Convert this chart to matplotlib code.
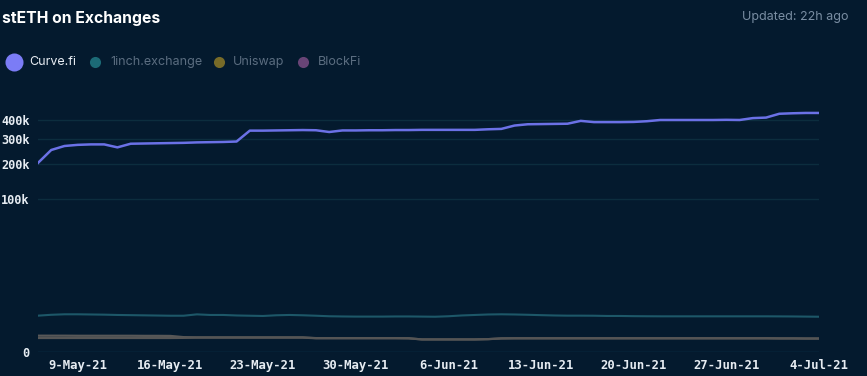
import numpy as np
import pandas as pd
import matplotlib
matplotlib.use("Agg")
import matplotlib.pyplot as plt
from matplotlib.lines import Line2D
from matplotlib.ticker import FuncFormatter, FixedLocator

# daily values, 6-May-21 .. 4-Jul-21
dates = pd.date_range("2021-05-06", "2021-07-04", freq="D")

curve_fi = [203e3, 253e3, 270e3, 275e3, 277e3, 277e3, 264e3, 280e3, 281e3, 282e3,
            283e3, 284e3, 286e3, 287e3, 288e3, 290e3, 343e3, 343e3, 344e3, 345e3,
            346e3, 345e3, 336e3, 344e3, 344e3, 345e3, 345e3, 346e3, 346e3, 347e3,
            347e3, 347e3, 347e3, 347e3, 350e3, 352e3, 370e3, 377e3, 378e3, 379e3,
            380e3, 396e3, 389e3, 389e3, 389e3, 390e3, 394e3, 401e3, 401e3, 401e3,
            401e3, 401e3, 402e3, 401e3, 412e3, 415e3, 438e3, 441e3, 443e3, 443e3]

inch = [850, 920, 960, 960, 945, 930, 905, 890, 875, 860,
        845, 845, 955, 905, 905, 865, 845, 826, 880, 905,
        880, 845, 805, 790, 780, 780, 780, 790, 790, 780,
        770, 805, 865, 905, 945, 960, 945, 920, 890, 865,
        850, 850, 845, 826, 826, 812, 805, 800, 800, 800,
        800, 800, 800, 800, 800, 800, 795, 790, 780, 770]

uniswap = [61, 61, 61, 60, 60, 60, 60, 60, 59, 59,
           58, 45, 43, 43, 43, 43, 43, 43, 43, 43,
           43, 36, 36, 36, 36, 36, 36, 36, 35, 26,
           26, 26, 26, 26, 28, 34, 35, 35, 35, 35,
           35, 35, 35, 35, 35, 35, 35, 35, 35, 35,
           35, 35, 35, 35, 35, 35, 34, 34, 33, 33]

blockfi = [37, 37, 37, 37, 37, 37, 37, 37, 37, 37,
           37, 38, 40, 40, 40, 40, 40, 40, 40, 40,
           40, 35, 35, 35, 35, 35, 35, 35, 34, 26,
           26, 26, 26, 26, 28, 33, 34, 34, 34, 34,
           34, 34, 34, 34, 34, 34, 34, 34, 34, 34,
           34, 34, 34, 34, 34, 34, 33, 33, 32, 32]

y_ticks = [0, 100e3, 200e3, 300e3, 400e3]
x_ticks = pd.date_range("2021-05-09", "2021-07-04", freq="7D")

BG = "#041a2e"
POW = 0.3


def fwd(v):
    v = np.asarray(v, dtype=float)
    return np.sign(v) * np.abs(v) ** POW


def inv(v):
    v = np.asarray(v, dtype=float)
    return np.sign(v) * np.abs(v) ** (1 / POW)


fig = plt.figure(figsize=(8.67, 3.76), dpi=100, facecolor=BG)
ax = fig.add_axes([38 / 867, (376 - 352.3) / 376, (819 - 38) / 867, (352.3 - 105) / 376])
ax.set_facecolor(BG)
ax.set_yscale("function", functions=(fwd, inv))

ax.plot(dates, uniswap, color="#585858", lw=1.6, zorder=3)
ax.plot(dates, blockfi, color="#555555", lw=1.6, zorder=3)
ax.plot(dates, inch, color="#1d5768", lw=1.5, zorder=3)
ax.plot(dates, curve_fi, color="#6b71e6", lw=1.8, zorder=4)

ax.set_xlim(dates[0], dates[-1])
ax.set_ylim(0, 494e3)

ax.yaxis.set_major_locator(FixedLocator(y_ticks))
ax.yaxis.set_major_formatter(FuncFormatter(lambda v, p: "0" if v == 0 else f"{int(v / 1000)}k"))
ax.set_xticks(x_ticks)
ax.set_xticklabels([f"{d.day}-{d:%b-%y}" for d in x_ticks])

for t in y_ticks:
    ax.axhline(t, color="#0e3a52" if t == 0 else "#0c2d3e", lw=1, zorder=1)

for s in ax.spines.values():
    s.set_visible(False)
ax.tick_params(length=0, colors="#e6ecf2", labelsize=8.8)
ax.tick_params(axis="y", pad=6, labelsize=8.6)
ax.tick_params(axis="x", pad=5)
for lab in ax.get_xticklabels() + ax.get_yticklabels():
    lab.set_family("DejaVu Sans Mono")
    lab.set_fontweight("bold")

# header
fig.text(2 / 867, 1 - 18 / 376, "stETH on Exchanges", color="white", fontsize=11.3,
         fontweight="bold", family="Inter", va="center", ha="left")
fig.text(849 / 867, 1 - 17 / 376, "Updated: 22h ago", color="#7a8ea3", fontsize=9,
         family="Inter", va="center", ha="right")

# legend
legend = [("Curve.fi", "#7b7cf6", 13, "#e8edf3", 14, 29),
          ("1inch.exchange", "#1c6a76", 8, "#5b6d80", 95, 110),
          ("Uniswap", "#786b28", 8, "#5b6d80", 219, 233),
          ("BlockFi", "#684476", 8, "#5b6d80", 303, 318)]
for name, mc, ms, tc, mx, tx in legend:
    fig.add_artist(Line2D([mx / 867], [1 - 62 / 376], marker="o", markersize=ms,
                          color=mc, markeredgewidth=0, linestyle="none",
                          transform=fig.transFigure))
    fig.text(tx / 867, 1 - 62 / 376, name, color=tc, fontsize=9, family="Inter",
             va="center", ha="left")

fig.savefig("out.png", dpi=100, facecolor=BG)
